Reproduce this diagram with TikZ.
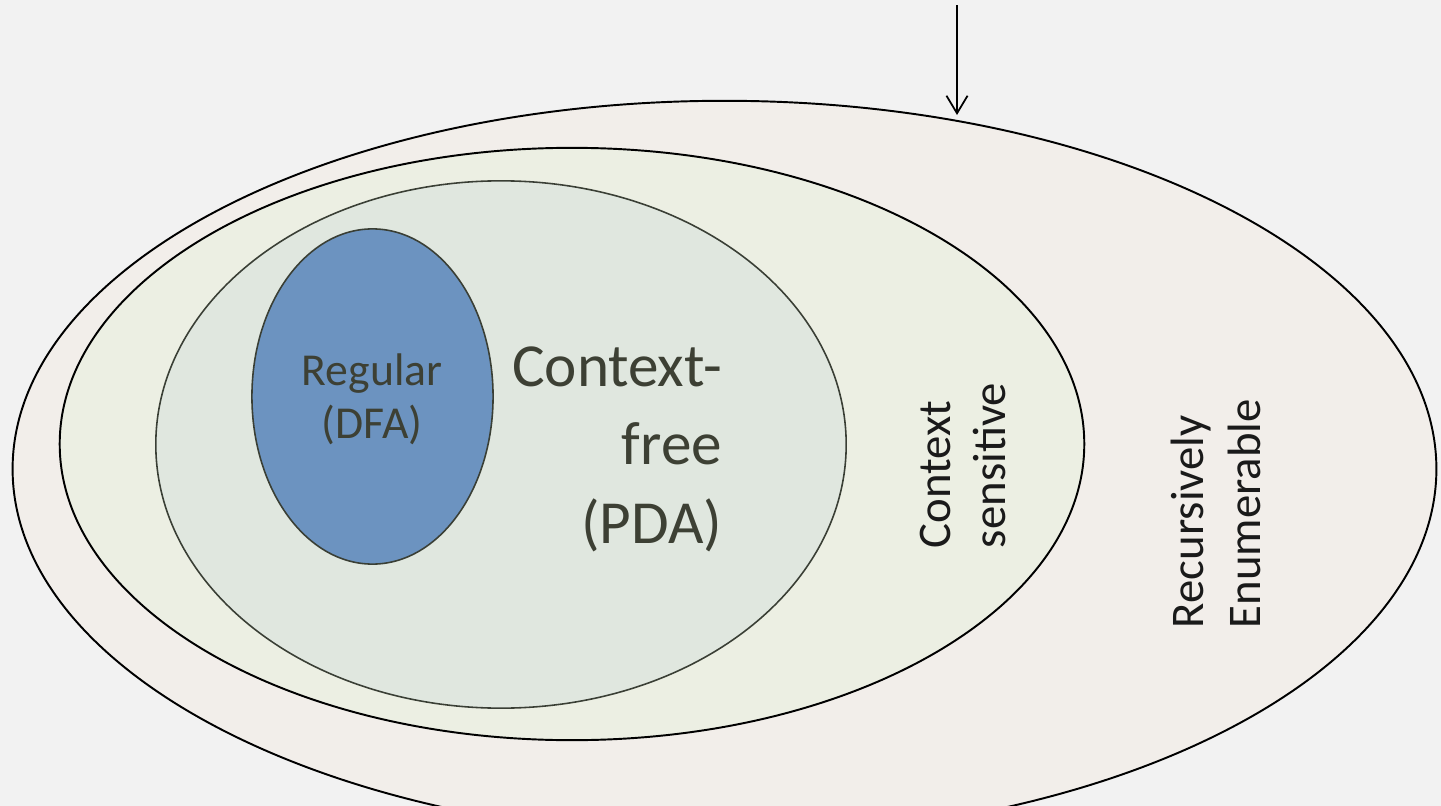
\documentclass[tikz,border=0pt]{standalone}
\usepackage{fontspec}
\setmainfont{Carlito}
\usetikzlibrary{shapes.geometric,arrows.meta}
\definecolor{bgc}{HTML}{F2F2F2}
\definecolor{refill}{HTML}{F2EEEA}
\definecolor{csfill}{HTML}{ECEFE3}
\definecolor{cffill}{HTML}{E0E7DF}
\definecolor{regfill}{HTML}{6C93C0}
\definecolor{innerline}{HTML}{3A3F35}
\definecolor{darktext}{HTML}{3D4034}
\definecolor{blacktext}{HTML}{1A1A1A}
\tikzset{
  lang/.style={ellipse, inner sep=0pt, outer sep=0pt},
  outerlang/.style={lang, draw=black, line width=0.55pt},
  innerlang/.style={lang, draw=innerline, line width=0.45pt},
  label text/.style={inner sep=0pt, outer sep=0pt},
}
\begin{document}
\begin{tikzpicture}[x=0.01cm, y=-0.01cm]
  \useasboundingbox (0,0) rectangle (1441,806);
  \fill[bgc] (0,0) rectangle (1441,806);
  \clip (0,0) rectangle (1441,806);
  % nested language classes
  \node[outerlang, fill=refill, minimum width=14.23cm, minimum height=7.36cm] (re) at (724.5,469) {};
  \node[outerlang, fill=csfill, minimum width=10.24cm, minimum height=5.92cm] (cs) at (572,444) {};
  \node[innerlang, fill=cffill, minimum width=6.90cm, minimum height=5.27cm] (cf) at (501,444.5) {};
  \node[innerlang, fill=regfill, minimum width=2.41cm, minimum height=3.35cm] (reg) at (372.5,396.5) {};
  % labels (base anchors sit on the last line)
  \node[label text, text=darktext, align=center, anchor=base,
        font=\fontsize{13}{15}\selectfont] (regtxt) at (372,438) {Regular\\(DFA)};
  \node[label text, text=darktext, align=right, anchor=base east,
        font=\fontsize{17.4}{22.2}\selectfont] (cftxt) at (722,543) {Context-\\free\\(PDA)};
  \node[label text, text=blacktext, align=left, anchor=base west, rotate=90,
        font=\fontsize{13.3}{15.6}\selectfont] (cstxt) at (1005,548) {Context\\sensitive};
  \node[label text, text=blacktext, align=left, anchor=base west, rotate=90,
        font=\fontsize{13.3}{16.2}\selectfont] (retxt) at (1260,628) {Recursively\\Enumerable};
  % pointer onto the outermost class
  \coordinate (src) at (957,5);
  \coordinate (tip) at (957,115);
  \draw[line width=0.5pt, -{Straight Barb[length=5pt,width=6pt]}] (src) -- (tip);
\end{tikzpicture}
\end{document}
